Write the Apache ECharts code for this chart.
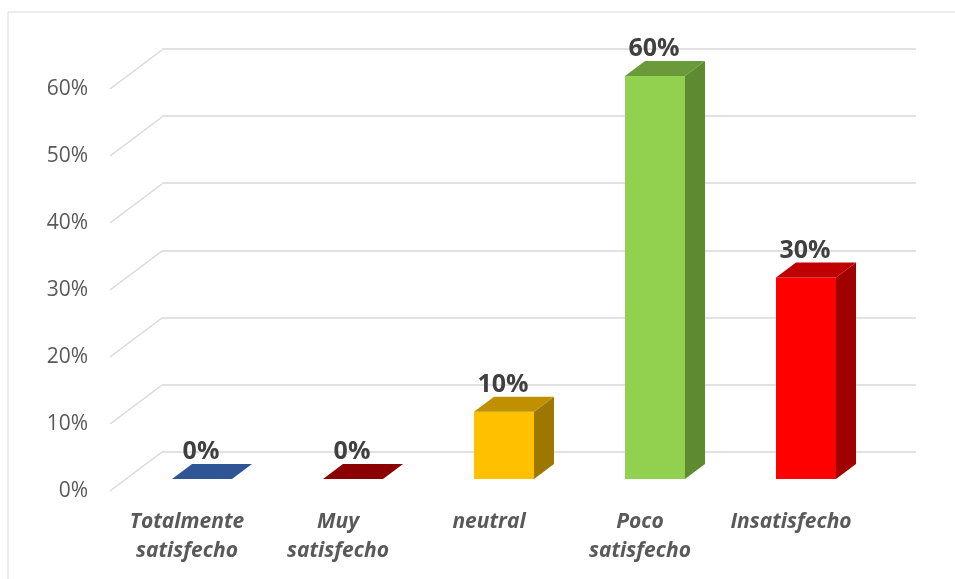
<!DOCTYPE html>
<html>
<head>
<meta charset="utf-8">
<script src="https://cdn.jsdelivr.net/npm/echarts@6/dist/echarts.min.js"></script>
<style>html,body{margin:0;padding:0;background:#fff;}#c{width:955px;height:579px;}</style>
</head>
<body>
<div id="c"></div>
<script>
const categories = ['Totalmente\nsatisfecho', 'Muy\nsatisfecho', 'neutral', 'Poco\nsatisfecho', 'Insatisfecho'];
const values = [0, 0, 10, 60, 30];
const tickValues = [0, 10, 20, 30, 40, 50, 60];
const frontColors = ['#4472C4', '#C00000', '#FFC000', '#92D050', '#FF0000'];
const topColors = ['#2F5597', '#8B0000', '#C09000', '#6B9A3A', '#C00000'];
const sideColors = ['#203864', '#600000', '#9E7700', '#5E8A30', '#A00000'];

const DX = 20, DY = -15, BAR_W = 60;
const WALL_DX = 52, WALL_DY = -39;
const FONT = '"Open Sans", "DejaVu Sans", sans-serif';

const chart = echarts.init(document.getElementById('c'));
chart.setOption({
  animation: false,
  backgroundColor: '#fff',
  graphic: [{
    type: 'rect', shape: { x: 8, y: 12, width: 1200, height: 1200 },
    style: { fill: 'none', stroke: '#d9d9d9', lineWidth: 1 }, silent: true, z: -10
  }],
  grid: [
    { left: 162, right: 39, top: 48.5, bottom: 127 },   // back wall
    { left: 110, right: 39, top: 89, bottom: 88 },      // front label plane
    { left: 126.5, right: 73.5, top: 76, bottom: 100 }, // bar front plane
    { left: 111.5, right: 88.5, top: 300, bottom: 88 }  // category labels
  ],
  xAxis: [
    { gridIndex: 0, type: 'value', min: 0, max: 1, show: false },
    { gridIndex: 1, type: 'value', min: 0, max: 1, show: false },
    { gridIndex: 2, type: 'category', data: categories, show: false },
    { gridIndex: 3, type: 'category', data: categories,
      axisLine: { show: false }, axisTick: { show: false }, splitLine: { show: false },
      axisLabel: { interval: 0, margin: 17, color: '#595959', fontFamily: FONT,
        fontSize: 21, fontWeight: 'bold', fontStyle: 'italic', lineHeight: 29 } }
  ],
  yAxis: [
    { gridIndex: 0, type: 'value', min: 0, max: 60, interval: 10,
      axisLine: { show: false }, axisTick: { show: false }, axisLabel: { show: false },
      splitLine: { show: true, lineStyle: { color: '#d9d9d9', width: 1.5 } } },
    { gridIndex: 1, type: 'value', min: 0, max: 60, interval: 10,
      axisLine: { show: false }, axisTick: { show: false }, splitLine: { show: false },
      axisLabel: { margin: 22, color: '#595959', fontFamily: FONT, fontSize: 21,
        formatter: v => v + '%' } },
    { gridIndex: 2, type: 'value', min: 0, max: 60, show: false },
    { gridIndex: 3, type: 'value', min: 0, max: 60, show: false }
  ],
  series: [
    {
      type: 'custom', xAxisIndex: 1, yAxisIndex: 1, silent: true, z: 1,
      data: tickValues.map(v => [0, v]),
      renderItem: function (params, api) {
        const p = api.coord([0, api.value(1)]);
        return { type: 'line', shape: { x1: p[0], y1: p[1], x2: p[0] + WALL_DX, y2: p[1] + WALL_DY },
          style: { stroke: '#d9d9d9', lineWidth: 1.5 } };
      }
    },
    {
      type: 'custom', xAxisIndex: 2, yAxisIndex: 2, silent: true, z: 5,
      data: values.map((v, i) => [i, v]),
      renderItem: function (params, api) {
        const i = api.value(0), v = api.value(1);
        const base = api.coord([i, 0]);
        const top = api.coord([i, v]);
        const x0 = base[0] - BAR_W / 2, x1 = base[0] + BAR_W / 2;
        const yt = top[1], yb = base[1];
        const children = [];
        if (yb - yt > 0.5) {
          children.push({ type: 'rect', shape: { x: x0, y: yt, width: BAR_W, height: yb - yt },
            style: { fill: frontColors[i] } });
          children.push({ type: 'polygon', shape: { points: [[x1, yt], [x1 + DX, yt + DY], [x1 + DX, yb + DY], [x1, yb]] },
            style: { fill: sideColors[i] } });
        }
        children.push({ type: 'polygon', shape: { points: [[x0, yt], [x0 + DX, yt + DY], [x1 + DX, yt + DY], [x1, yt]] },
          style: { fill: topColors[i] } });
        children.push({ type: 'text', x: base[0] - 1, y: yt - 27,
          style: { text: v + '%', fill: '#404040', font: 'bold 25px ' + FONT, align: 'center', verticalAlign: 'middle' } });
        return { type: 'group', children: children };
      }
    }
  ]
});
</script>
</body>
</html>
